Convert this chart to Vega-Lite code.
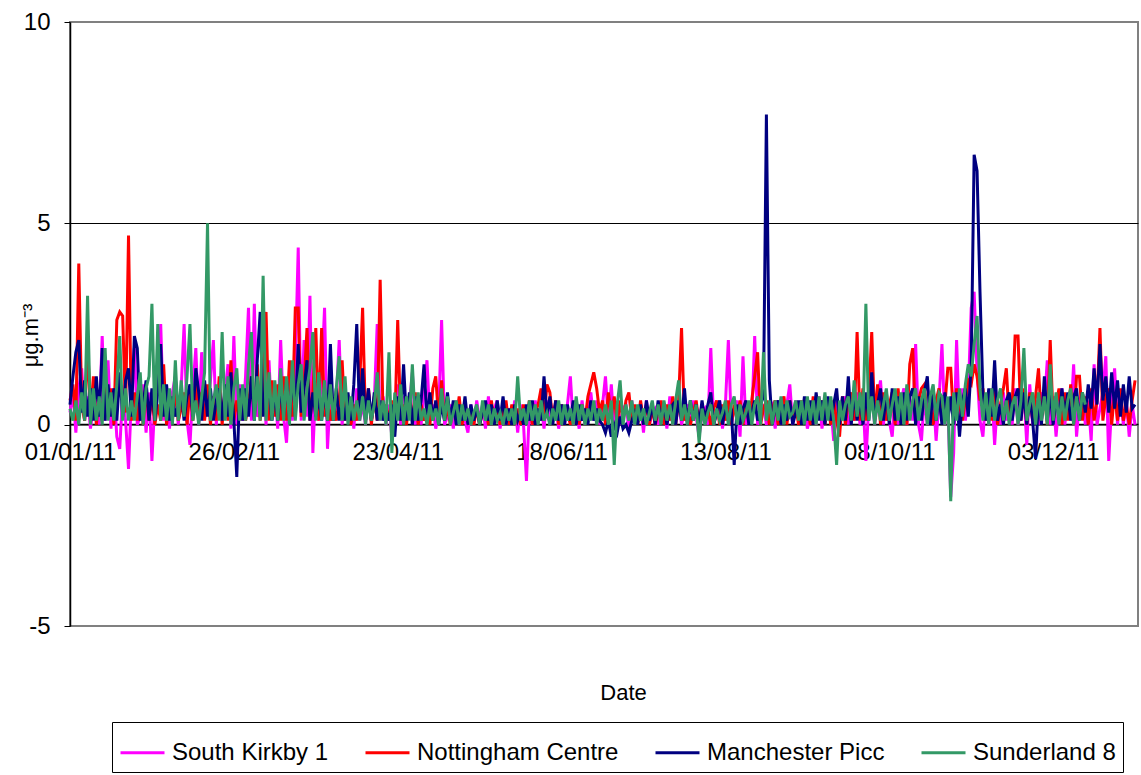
{
"$schema":"https://vega.github.io/schema/vega-lite/v6.json",
"width":1068,"height":604,
"autosize":{"type":"none"},
"padding":{"left":70,"top":22,"right":3,"bottom":149},
"background":"white",
"config":{"font":"Liberation Sans","view":{"stroke":"#808080","strokeWidth":2}},
"data":{"values":[
{"t":"2011-01-01","k":0.3,"n":0.6,"m":0.5,"s":0.4},
{"t":"2011-01-02","k":0.8,"n":1.0,"m":1.2,"s":0.1},
{"t":"2011-01-03","k":-0.2,"n":0.1,"m":1.8,"s":0.6},
{"t":"2011-01-04","k":0.9,"n":4.0,"m":2.1,"s":0.0},
{"t":"2011-01-05","k":1.4,"n":0.5,"m":0.3,"s":0.8},
{"t":"2011-01-06","k":0.1,"n":0.1,"m":1.1,"s":0.1},
{"t":"2011-01-07","k":0.7,"n":2.1,"m":0.2,"s":3.2},
{"t":"2011-01-08","k":-0.1,"n":0.2,"m":0.9,"s":0.0},
{"t":"2011-01-09","k":0.5,"n":1.2,"m":0.1,"s":0.9},
{"t":"2011-01-10","k":1.0,"n":0.0,"m":1.2,"s":0.1},
{"t":"2011-01-11","k":0.0,"n":0.7,"m":0.2,"s":0.7},
{"t":"2011-01-12","k":2.2,"n":0.1,"m":1.9,"s":0.0},
{"t":"2011-01-13","k":0.1,"n":1.2,"m":0.1,"s":1.9},
{"t":"2011-01-14","k":1.6,"n":0.2,"m":1.0,"s":0.1},
{"t":"2011-01-15","k":-0.1,"n":0.9,"m":0.2,"s":0.8},
{"t":"2011-01-16","k":0.9,"n":0.0,"m":0.9,"s":0.1},
{"t":"2011-01-17","k":-0.3,"n":2.6,"m":0.1,"s":1.0},
{"t":"2011-01-18","k":-0.6,"n":2.8,"m":1.3,"s":2.2},
{"t":"2011-01-19","k":0.8,"n":2.7,"m":0.2,"s":0.1},
{"t":"2011-01-20","k":0.1,"n":0.3,"m":1.1,"s":0.9},
{"t":"2011-01-21","k":-1.1,"n":4.7,"m":1.4,"s":0.1},
{"t":"2011-01-22","k":0.7,"n":0.1,"m":0.2,"s":0.6},
{"t":"2011-01-23","k":1.9,"n":0.8,"m":2.2,"s":0.1},
{"t":"2011-01-24","k":0.0,"n":0.1,"m":1.9,"s":0.7},
{"t":"2011-01-25","k":0.2,"n":1.0,"m":0.1,"s":1.3},
{"t":"2011-01-26","k":1.0,"n":0.0,"m":0.5,"s":0.0},
{"t":"2011-01-27","k":-0.2,"n":0.9,"m":1.1,"s":0.9},
{"t":"2011-01-28","k":0.8,"n":0.1,"m":0.1,"s":1.2},
{"t":"2011-01-29","k":-0.9,"n":0.7,"m":0.9,"s":3.0},
{"t":"2011-01-30","k":0.6,"n":0.0,"m":0.1,"s":0.1},
{"t":"2011-01-31","k":0.9,"n":0.5,"m":0.8,"s":2.5},
{"t":"2011-02-01","k":2.5,"n":0.1,"m":2.0,"s":0.1},
{"t":"2011-02-02","k":0.1,"n":1.5,"m":0.2,"s":1.0},
{"t":"2011-02-03","k":0.7,"n":0.0,"m":1.0,"s":0.1},
{"t":"2011-02-04","k":-0.1,"n":0.7,"m":0.1,"s":0.9},
{"t":"2011-02-05","k":0.8,"n":0.1,"m":0.7,"s":0.0},
{"t":"2011-02-06","k":1.2,"n":0.9,"m":0.2,"s":1.6},
{"t":"2011-02-07","k":0.0,"n":0.1,"m":0.5,"s":0.1},
{"t":"2011-02-08","k":0.9,"n":0.4,"m":0.8,"s":1.1},
{"t":"2011-02-09","k":2.5,"n":0.8,"m":0.1,"s":0.2},
{"t":"2011-02-10","k":0.1,"n":0.0,"m":0.7,"s":1.2},
{"t":"2011-02-11","k":-0.5,"n":0.9,"m":1.0,"s":2.5},
{"t":"2011-02-12","k":0.9,"n":0.1,"m":0.2,"s":0.1},
{"t":"2011-02-13","k":1.9,"n":1.1,"m":1.4,"s":0.6},
{"t":"2011-02-14","k":0.0,"n":0.1,"m":0.8,"s":0.0},
{"t":"2011-02-15","k":1.8,"n":0.8,"m":0.1,"s":0.7},
{"t":"2011-02-16","k":0.2,"n":0.1,"m":1.1,"s":1.3},
{"t":"2011-02-17","k":0.3,"n":1.0,"m":0.2,"s":5.0},
{"t":"2011-02-18","k":1.1,"n":0.0,"m":0.9,"s":0.1},
{"t":"2011-02-19","k":2.1,"n":0.7,"m":0.1,"s":0.6},
{"t":"2011-02-20","k":0.0,"n":0.1,"m":0.6,"s":1.0},
{"t":"2011-02-21","k":1.0,"n":1.2,"m":0.9,"s":0.1},
{"t":"2011-02-22","k":0.1,"n":0.0,"m":0.1,"s":2.3},
{"t":"2011-02-23","k":0.8,"n":0.9,"m":1.0,"s":0.1},
{"t":"2011-02-24","k":1.5,"n":0.1,"m":0.2,"s":1.2},
{"t":"2011-02-25","k":-0.1,"n":1.6,"m":1.3,"s":0.0},
{"t":"2011-02-26","k":2.2,"n":0.1,"m":0.1,"s":0.9},
{"t":"2011-02-27","k":0.0,"n":0.6,"m":-1.3,"s":1.4},
{"t":"2011-02-28","k":1.0,"n":0.1,"m":0.9,"s":0.1},
{"t":"2011-03-01","k":0.1,"n":0.7,"m":0.1,"s":1.0},
{"t":"2011-03-02","k":1.2,"n":0.1,"m":0.9,"s":0.1},
{"t":"2011-03-03","k":2.9,"n":0.5,"m":0.2,"s":1.5},
{"t":"2011-03-04","k":0.1,"n":1.2,"m":1.2,"s":2.3},
{"t":"2011-03-05","k":3.0,"n":0.2,"m":0.1,"s":0.1},
{"t":"2011-03-06","k":0.2,"n":1.5,"m":1.6,"s":1.2},
{"t":"2011-03-07","k":0.4,"n":0.1,"m":2.8,"s":0.1},
{"t":"2011-03-08","k":1.3,"n":1.0,"m":0.2,"s":3.7},
{"t":"2011-03-09","k":0.0,"n":2.8,"m":0.7,"s":0.1},
{"t":"2011-03-10","k":1.6,"n":0.1,"m":0.9,"s":1.3},
{"t":"2011-03-11","k":0.1,"n":1.1,"m":0.1,"s":0.1},
{"t":"2011-03-12","k":0.8,"n":0.2,"m":0.8,"s":1.1},
{"t":"2011-03-13","k":-0.1,"n":1.0,"m":0.1,"s":0.1},
{"t":"2011-03-14","k":2.1,"n":0.1,"m":1.0,"s":1.4},
{"t":"2011-03-15","k":0.2,"n":1.2,"m":0.2,"s":0.1},
{"t":"2011-03-16","k":-0.45,"n":0.1,"m":1.1,"s":1.2},
{"t":"2011-03-17","k":1.0,"n":1.6,"m":0.1,"s":0.0},
{"t":"2011-03-18","k":0.1,"n":0.2,"m":1.3,"s":1.6},
{"t":"2011-03-19","k":1.5,"n":2.9,"m":0.2,"s":0.1},
{"t":"2011-03-20","k":4.4,"n":2.9,"m":2.0,"s":1.0},
{"t":"2011-03-21","k":0.1,"n":0.2,"m":0.3,"s":1.5},
{"t":"2011-03-22","k":2.1,"n":1.0,"m":0.9,"s":0.1},
{"t":"2011-03-23","k":0.2,"n":2.4,"m":1.6,"s":0.9},
{"t":"2011-03-24","k":3.2,"n":0.1,"m":0.1,"s":1.4},
{"t":"2011-03-25","k":-0.7,"n":0.8,"m":0.8,"s":2.3},
{"t":"2011-03-26","k":1.0,"n":2.4,"m":0.2,"s":0.1},
{"t":"2011-03-27","k":0.1,"n":0.1,"m":0.7,"s":1.3},
{"t":"2011-03-28","k":1.2,"n":2.4,"m":0.1,"s":0.1},
{"t":"2011-03-29","k":2.9,"n":0.2,"m":0.9,"s":1.1},
{"t":"2011-03-30","k":-0.6,"n":0.7,"m":0.1,"s":0.1},
{"t":"2011-03-31","k":0.8,"n":0.1,"m":2.0,"s":1.0},
{"t":"2011-04-01","k":0.1,"n":0.5,"m":0.1,"s":0.1},
{"t":"2011-04-02","k":0.6,"n":0.1,"m":0.9,"s":0.9},
{"t":"2011-04-03","k":2.1,"n":0.6,"m":0.1,"s":1.7},
{"t":"2011-04-04","k":0.0,"n":1.6,"m":0.6,"s":0.1},
{"t":"2011-04-05","k":0.8,"n":0.1,"m":0.1,"s":1.2},
{"t":"2011-04-06","k":0.1,"n":0.7,"m":0.8,"s":0.0},
{"t":"2011-04-07","k":0.6,"n":0.0,"m":0.1,"s":0.7},
{"t":"2011-04-08","k":-0.1,"n":0.5,"m":1.0,"s":0.1},
{"t":"2011-04-09","k":0.9,"n":0.1,"m":2.5,"s":0.6},
{"t":"2011-04-10","k":0.1,"n":1.0,"m":0.2,"s":0.1},
{"t":"2011-04-11","k":0.5,"n":2.9,"m":1.4,"s":0.7},
{"t":"2011-04-12","k":0.0,"n":0.1,"m":0.1,"s":0.0},
{"t":"2011-04-13","k":0.8,"n":0.9,"m":0.9,"s":0.6},
{"t":"2011-04-14","k":0.1,"n":0.0,"m":0.1,"s":0.1},
{"t":"2011-04-15","k":0.6,"n":0.7,"m":0.8,"s":0.5},
{"t":"2011-04-16","k":2.5,"n":0.1,"m":0.1,"s":1.3},
{"t":"2011-04-17","k":0.1,"n":3.6,"m":0.6,"s":0.1},
{"t":"2011-04-18","k":0.7,"n":0.2,"m":0.1,"s":0.6},
{"t":"2011-04-19","k":0.0,"n":0.5,"m":0.4,"s":0.0},
{"t":"2011-04-20","k":0.5,"n":0.1,"m":0.1,"s":1.8},
{"t":"2011-04-21","k":-0.3,"n":0.6,"m":0.5,"s":-0.7},
{"t":"2011-04-22","k":0.6,"n":0.0,"m":-0.3,"s":0.8},
{"t":"2011-04-23","k":1.0,"n":2.6,"m":0.7,"s":0.1},
{"t":"2011-04-24","k":0.0,"n":0.1,"m":0.1,"s":1.0},
{"t":"2011-04-25","k":0.7,"n":0.5,"m":1.5,"s":0.0},
{"t":"2011-04-26","k":0.1,"n":0.0,"m":0.1,"s":0.7},
{"t":"2011-04-27","k":0.5,"n":0.6,"m":0.8,"s":0.1},
{"t":"2011-04-28","k":1.3,"n":0.1,"m":0.0,"s":1.5},
{"t":"2011-04-29","k":0.0,"n":0.8,"m":0.7,"s":0.1},
{"t":"2011-04-30","k":0.6,"n":0.0,"m":0.1,"s":0.8},
{"t":"2011-05-01","k":0.0,"n":0.5,"m":0.6,"s":0.1},
{"t":"2011-05-02","k":0.8,"n":0.1,"m":1.5,"s":0.4},
{"t":"2011-05-03","k":1.6,"n":0.4,"m":0.1,"s":0.0},
{"t":"2011-05-04","k":0.1,"n":0.0,"m":0.8,"s":0.5},
{"t":"2011-05-05","k":0.5,"n":0.9,"m":0.1,"s":0.1},
{"t":"2011-05-06","k":-0.1,"n":1.2,"m":0.6,"s":0.4},
{"t":"2011-05-07","k":0.3,"n":0.1,"m":0.0,"s":0.0},
{"t":"2011-05-08","k":2.6,"n":1.1,"m":0.5,"s":0.9},
{"t":"2011-05-09","k":0.0,"n":0.1,"m":0.1,"s":0.1},
{"t":"2011-05-10","k":0.2,"n":0.4,"m":0.8,"s":0.7},
{"t":"2011-05-11","k":0.5,"n":0.0,"m":0.1,"s":0.0},
{"t":"2011-05-12","k":-0.1,"n":0.5,"m":0.6,"s":0.3},
{"t":"2011-05-13","k":0.6,"n":0.1,"m":0.0,"s":0.6},
{"t":"2011-05-14","k":0.0,"n":0.7,"m":0.5,"s":0.0},
{"t":"2011-05-15","k":0.4,"n":0.0,"m":0.1,"s":0.5},
{"t":"2011-05-16","k":0.1,"n":0.5,"m":0.7,"s":0.1},
{"t":"2011-05-17","k":-0.2,"n":0.1,"m":0.0,"s":0.4},
{"t":"2011-05-18","k":0.5,"n":0.3,"m":0.5,"s":0.0},
{"t":"2011-05-19","k":0.0,"n":0.0,"m":0.1,"s":0.3},
{"t":"2011-05-20","k":0.6,"n":0.4,"m":0.4,"s":0.5},
{"t":"2011-05-21","k":0.1,"n":0.0,"m":0.0,"s":0.0},
{"t":"2011-05-22","k":0.5,"n":0.3,"m":0.3,"s":0.6},
{"t":"2011-05-23","k":-0.1,"n":0.5,"m":0.6,"s":0.1},
{"t":"2011-05-24","k":0.7,"n":0.0,"m":0.1,"s":0.5},
{"t":"2011-05-25","k":0.0,"n":0.6,"m":0.5,"s":0.0},
{"t":"2011-05-26","k":0.4,"n":0.1,"m":0.0,"s":0.4},
{"t":"2011-05-27","k":0.6,"n":0.4,"m":0.6,"s":0.1},
{"t":"2011-05-28","k":-0.1,"n":0.0,"m":0.1,"s":0.3},
{"t":"2011-05-29","k":0.5,"n":0.3,"m":0.7,"s":0.0},
{"t":"2011-05-30","k":0.0,"n":0.6,"m":0.0,"s":0.4},
{"t":"2011-05-31","k":0.4,"n":0.0,"m":0.4,"s":0.1},
{"t":"2011-06-01","k":0.1,"n":0.5,"m":0.0,"s":0.4},
{"t":"2011-06-02","k":0.6,"n":0.0,"m":0.5,"s":0.0},
{"t":"2011-06-03","k":-0.2,"n":0.4,"m":0.1,"s":1.2},
{"t":"2011-06-04","k":0.5,"n":0.0,"m":0.3,"s":0.1},
{"t":"2011-06-05","k":0.0,"n":0.5,"m":0.0,"s":0.4},
{"t":"2011-06-06","k":-1.4,"n":0.1,"m":0.5,"s":0.0},
{"t":"2011-06-07","k":0.4,"n":0.6,"m":0.1,"s":0.6},
{"t":"2011-06-08","k":0.0,"n":0.0,"m":0.6,"s":0.1},
{"t":"2011-06-09","k":0.6,"n":0.3,"m":0.0,"s":0.5},
{"t":"2011-06-10","k":0.1,"n":0.5,"m":0.4,"s":0.0},
{"t":"2011-06-11","k":0.5,"n":0.9,"m":0.1,"s":0.6},
{"t":"2011-06-12","k":-0.1,"n":0.1,"m":1.2,"s":0.1},
{"t":"2011-06-13","k":0.6,"n":1.0,"m":0.2,"s":0.3},
{"t":"2011-06-14","k":0.0,"n":0.8,"m":0.7,"s":0.0},
{"t":"2011-06-15","k":0.3,"n":0.1,"m":0.0,"s":0.4},
{"t":"2011-06-16","k":0.5,"n":0.6,"m":0.6,"s":0.1},
{"t":"2011-06-17","k":-0.1,"n":0.0,"m":0.1,"s":0.6},
{"t":"2011-06-18","k":0.4,"n":0.5,"m":0.5,"s":0.0},
{"t":"2011-06-19","k":0.0,"n":0.1,"m":0.0,"s":0.5},
{"t":"2011-06-20","k":0.5,"n":0.3,"m":0.5,"s":0.1},
{"t":"2011-06-21","k":1.2,"n":0.0,"m":0.1,"s":0.4},
{"t":"2011-06-22","k":0.0,"n":0.4,"m":0.6,"s":0.0},
{"t":"2011-06-23","k":0.4,"n":0.6,"m":0.0,"s":0.7},
{"t":"2011-06-24","k":-0.1,"n":0.0,"m":0.5,"s":0.1},
{"t":"2011-06-25","k":0.6,"n":0.5,"m":0.1,"s":0.5},
{"t":"2011-06-26","k":0.0,"n":0.1,"m":0.4,"s":0.0},
{"t":"2011-06-27","k":0.5,"n":0.7,"m":0.0,"s":0.4},
{"t":"2011-06-28","k":0.8,"n":1.0,"m":0.6,"s":0.1},
{"t":"2011-06-29","k":0.1,"n":1.3,"m":0.1,"s":0.6},
{"t":"2011-06-30","k":0.6,"n":0.9,"m":0.4,"s":0.0},
{"t":"2011-07-01","k":0.0,"n":0.3,"m":0.1,"s":0.4},
{"t":"2011-07-02","k":0.5,"n":0.6,"m":0.0,"s":0.1},
{"t":"2011-07-03","k":1.2,"n":0.0,"m":-0.2,"s":0.5},
{"t":"2011-07-04","k":0.1,"n":0.8,"m":0.1,"s":0.0},
{"t":"2011-07-05","k":1.0,"n":0.2,"m":-0.3,"s":0.6},
{"t":"2011-07-06","k":-0.1,"n":0.7,"m":0.0,"s":-1.0},
{"t":"2011-07-07","k":0.5,"n":0.0,"m":-0.2,"s":0.5},
{"t":"2011-07-08","k":0.0,"n":0.6,"m":0.2,"s":1.1},
{"t":"2011-07-09","k":0.4,"n":0.1,"m":-0.1,"s":0.0},
{"t":"2011-07-10","k":0.5,"n":0.6,"m":0.0,"s":0.5},
{"t":"2011-07-11","k":-0.1,"n":0.8,"m":-0.2,"s":0.1},
{"t":"2011-07-12","k":0.6,"n":0.1,"m":0.1,"s":0.6},
{"t":"2011-07-13","k":0.0,"n":0.5,"m":0.3,"s":0.0},
{"t":"2011-07-14","k":0.4,"n":0.0,"m":0.0,"s":0.5},
{"t":"2011-07-15","k":0.5,"n":0.6,"m":0.5,"s":0.1},
{"t":"2011-07-16","k":-0.2,"n":0.1,"m":0.0,"s":0.4},
{"t":"2011-07-17","k":0.6,"n":0.5,"m":0.6,"s":0.0},
{"t":"2011-07-18","k":0.0,"n":0.0,"m":0.1,"s":0.3},
{"t":"2011-07-19","k":0.3,"n":0.4,"m":0.5,"s":0.6},
{"t":"2011-07-20","k":0.4,"n":0.0,"m":0.0,"s":0.1},
{"t":"2011-07-21","k":0.0,"n":0.3,"m":0.6,"s":0.5},
{"t":"2011-07-22","k":0.3,"n":0.6,"m":0.1,"s":0.0},
{"t":"2011-07-23","k":0.5,"n":0.0,"m":0.5,"s":0.6},
{"t":"2011-07-24","k":-0.1,"n":0.5,"m":0.0,"s":0.1},
{"t":"2011-07-25","k":0.7,"n":0.1,"m":0.4,"s":0.5},
{"t":"2011-07-26","k":0.0,"n":0.7,"m":0.5,"s":0.0},
{"t":"2011-07-27","k":0.3,"n":0.0,"m":0.0,"s":0.6},
{"t":"2011-07-28","k":0.6,"n":0.6,"m":0.6,"s":1.1},
{"t":"2011-07-29","k":0.0,"n":2.4,"m":0.1,"s":0.1},
{"t":"2011-07-30","k":0.3,"n":0.1,"m":0.9,"s":0.5},
{"t":"2011-07-31","k":0.5,"n":0.4,"m":0.0,"s":0.0},
{"t":"2011-08-01","k":0.0,"n":0.0,"m":0.6,"s":0.6},
{"t":"2011-08-02","k":0.6,"n":0.3,"m":0.1,"s":0.1},
{"t":"2011-08-03","k":0.2,"n":0.6,"m":0.5,"s":0.5},
{"t":"2011-08-04","k":-0.3,"n":0.0,"m":0.0,"s":-0.45},
{"t":"2011-08-05","k":0.3,"n":0.5,"m":0.6,"s":0.4},
{"t":"2011-08-06","k":0.4,"n":0.1,"m":0.1,"s":0.0},
{"t":"2011-08-07","k":0.0,"n":0.4,"m":0.5,"s":0.3},
{"t":"2011-08-08","k":1.9,"n":0.0,"m":0.8,"s":0.5},
{"t":"2011-08-09","k":0.0,"n":0.4,"m":0.0,"s":0.0},
{"t":"2011-08-10","k":0.3,"n":0.6,"m":0.3,"s":0.4},
{"t":"2011-08-11","k":0.6,"n":0.0,"m":0.6,"s":0.1},
{"t":"2011-08-12","k":-0.1,"n":0.5,"m":0.0,"s":0.3},
{"t":"2011-08-13","k":0.5,"n":0.1,"m":0.5,"s":0.6},
{"t":"2011-08-14","k":2.1,"n":0.6,"m":0.1,"s":0.0},
{"t":"2011-08-15","k":0.0,"n":0.0,"m":0.4,"s":0.5},
{"t":"2011-08-16","k":0.4,"n":0.5,"m":-1.0,"s":0.7},
{"t":"2011-08-17","k":0.6,"n":0.1,"m":0.5,"s":0.0},
{"t":"2011-08-18","k":-0.3,"n":0.6,"m":0.0,"s":0.5},
{"t":"2011-08-19","k":1.7,"n":0.0,"m":0.4,"s":0.1},
{"t":"2011-08-20","k":0.0,"n":0.5,"m":0.6,"s":0.3},
{"t":"2011-08-21","k":0.5,"n":0.1,"m":0.0,"s":0.6},
{"t":"2011-08-22","k":0.1,"n":0.6,"m":0.3,"s":0.0},
{"t":"2011-08-23","k":2.2,"n":1.2,"m":0.6,"s":0.5},
{"t":"2011-08-24","k":0.0,"n":1.8,"m":0.1,"s":0.7},
{"t":"2011-08-25","k":0.3,"n":0.0,"m":0.5,"s":0.0},
{"t":"2011-08-26","k":0.5,"n":0.4,"m":0.7,"s":1.8},
{"t":"2011-08-27","k":0.0,"n":0.6,"m":7.7,"s":0.1},
{"t":"2011-08-28","k":0.4,"n":0.0,"m":1.1,"s":0.6},
{"t":"2011-08-29","k":0.5,"n":0.4,"m":0.0,"s":0.0},
{"t":"2011-08-30","k":-0.1,"n":0.6,"m":0.4,"s":0.6},
{"t":"2011-08-31","k":0.6,"n":0.0,"m":0.6,"s":0.1},
{"t":"2011-09-01","k":0.0,"n":0.5,"m":0.0,"s":0.7},
{"t":"2011-09-02","k":0.4,"n":0.7,"m":0.5,"s":0.0},
{"t":"2011-09-03","k":0.5,"n":0.0,"m":0.1,"s":0.6},
{"t":"2011-09-04","k":1.0,"n":0.6,"m":0.6,"s":0.2},
{"t":"2011-09-05","k":0.0,"n":0.1,"m":0.0,"s":0.3},
{"t":"2011-09-06","k":0.6,"n":0.5,"m":0.3,"s":0.6},
{"t":"2011-09-07","k":0.1,"n":0.0,"m":0.6,"s":0.1},
{"t":"2011-09-08","k":0.3,"n":0.6,"m":0.0,"s":0.6},
{"t":"2011-09-09","k":0.6,"n":0.1,"m":0.7,"s":0.0},
{"t":"2011-09-10","k":-0.1,"n":0.5,"m":0.1,"s":0.7},
{"t":"2011-09-11","k":0.2,"n":0.0,"m":0.6,"s":0.1},
{"t":"2011-09-12","k":0.5,"n":0.7,"m":0.0,"s":0.6},
{"t":"2011-09-13","k":0.0,"n":0.1,"m":0.8,"s":0.0},
{"t":"2011-09-14","k":0.7,"n":0.3,"m":0.1,"s":0.7},
{"t":"2011-09-15","k":-0.1,"n":0.6,"m":0.6,"s":0.1},
{"t":"2011-09-16","k":0.5,"n":0.0,"m":0.0,"s":0.8},
{"t":"2011-09-17","k":0.2,"n":0.5,"m":0.7,"s":0.1},
{"t":"2011-09-18","k":0.5,"n":0.0,"m":0.1,"s":0.7},
{"t":"2011-09-19","k":-0.4,"n":0.6,"m":0.5,"s":0.1},
{"t":"2011-09-20","k":0.6,"n":0.1,"m":0.9,"s":-1.0},
{"t":"2011-09-21","k":0.0,"n":-0.3,"m":0.0,"s":0.6},
{"t":"2011-09-22","k":0.5,"n":0.7,"m":0.7,"s":0.1},
{"t":"2011-09-23","k":0.7,"n":0.0,"m":0.1,"s":0.5},
{"t":"2011-09-24","k":0.0,"n":0.6,"m":1.2,"s":0.7},
{"t":"2011-09-25","k":0.6,"n":0.8,"m":0.0,"s":0.1},
{"t":"2011-09-26","k":0.1,"n":0.1,"m":0.8,"s":1.1},
{"t":"2011-09-27","k":0.8,"n":2.3,"m":0.1,"s":0.2},
{"t":"2011-09-28","k":0.0,"n":0.1,"m":0.7,"s":0.8},
{"t":"2011-09-29","k":0.7,"n":0.9,"m":0.0,"s":0.1},
{"t":"2011-09-30","k":-0.9,"n":0.1,"m":0.8,"s":3.0},
{"t":"2011-10-01","k":0.5,"n":0.7,"m":0.1,"s":0.1},
{"t":"2011-10-02","k":0.8,"n":2.3,"m":1.3,"s":0.7},
{"t":"2011-10-03","k":0.0,"n":0.1,"m":0.2,"s":0.0},
{"t":"2011-10-04","k":0.6,"n":1.0,"m":0.5,"s":0.6},
{"t":"2011-10-05","k":1.1,"n":0.0,"m":0.9,"s":0.1},
{"t":"2011-10-06","k":0.0,"n":0.8,"m":0.1,"s":0.5},
{"t":"2011-10-07","k":0.7,"n":0.1,"m":0.8,"s":0.9},
{"t":"2011-10-08","k":0.1,"n":0.5,"m":0.0,"s":0.1},
{"t":"2011-10-09","k":-0.3,"n":0.8,"m":0.9,"s":0.5},
{"t":"2011-10-10","k":0.8,"n":0.0,"m":0.1,"s":0.9},
{"t":"2011-10-11","k":0.0,"n":0.9,"m":0.7,"s":0.1},
{"t":"2011-10-12","k":0.6,"n":0.1,"m":0.0,"s":0.8},
{"t":"2011-10-13","k":0.9,"n":0.7,"m":0.8,"s":0.0},
{"t":"2011-10-14","k":0.0,"n":0.0,"m":0.1,"s":1.0},
{"t":"2011-10-15","k":0.7,"n":1.5,"m":0.7,"s":0.1},
{"t":"2011-10-16","k":0.1,"n":1.9,"m":0.9,"s":0.6},
{"t":"2011-10-17","k":2.0,"n":0.1,"m":0.0,"s":0.9},
{"t":"2011-10-18","k":0.0,"n":0.6,"m":0.7,"s":0.1},
{"t":"2011-10-19","k":-0.4,"n":0.9,"m":0.1,"s":0.6},
{"t":"2011-10-20","k":0.7,"n":1.0,"m":0.8,"s":0.9},
{"t":"2011-10-21","k":0.0,"n":0.1,"m":1.2,"s":0.0},
{"t":"2011-10-22","k":0.3,"n":0.5,"m":0.0,"s":0.7},
{"t":"2011-10-23","k":0.8,"n":0.0,"m":0.9,"s":1.0},
{"t":"2011-10-24","k":-0.4,"n":0.6,"m":0.1,"s":0.1},
{"t":"2011-10-25","k":0.6,"n":0.9,"m":0.7,"s":0.8},
{"t":"2011-10-26","k":2.0,"n":0.1,"m":0.0,"s":0.7},
{"t":"2011-10-27","k":0.0,"n":0.5,"m":0.8,"s":0.0},
{"t":"2011-10-28","k":0.6,"n":1.4,"m":0.1,"s":0.7},
{"t":"2011-10-29","k":-1.8,"n":1.4,"m":0.7,"s":-1.9},
{"t":"2011-10-30","k":-0.7,"n":0.1,"m":0.0,"s":0.8},
{"t":"2011-10-31","k":2.1,"n":0.9,"m":0.8,"s":0.1},
{"t":"2011-11-01","k":0.0,"n":0.5,"m":-0.3,"s":0.9},
{"t":"2011-11-02","k":0.9,"n":0.1,"m":0.6,"s":0.2},
{"t":"2011-11-03","k":0.1,"n":0.6,"m":0.9,"s":1.0},
{"t":"2011-11-04","k":0.8,"n":1.1,"m":0.2,"s":1.5},
{"t":"2011-11-05","k":2.9,"n":1.0,"m":1.5,"s":1.2},
{"t":"2011-11-06","k":3.3,"n":1.5,"m":6.7,"s":2.0},
{"t":"2011-11-07","k":1.3,"n":1.2,"m":6.3,"s":2.7},
{"t":"2011-11-08","k":0.1,"n":0.6,"m":3.3,"s":0.9},
{"t":"2011-11-09","k":-0.3,"n":0.9,"m":0.8,"s":0.1},
{"t":"2011-11-10","k":0.7,"n":0.1,"m":0.1,"s":0.8},
{"t":"2011-11-11","k":0.0,"n":0.8,"m":0.9,"s":0.0},
{"t":"2011-11-12","k":0.9,"n":0.1,"m":0.2,"s":0.9},
{"t":"2011-11-13","k":-0.5,"n":1.0,"m":1.6,"s":0.1},
{"t":"2011-11-14","k":0.6,"n":0.0,"m":0.1,"s":0.6},
{"t":"2011-11-15","k":0.0,"n":0.5,"m":0.5,"s":0.9},
{"t":"2011-11-16","k":0.8,"n":0.9,"m":0.0,"s":0.1},
{"t":"2011-11-17","k":0.1,"n":1.4,"m":0.6,"s":0.6},
{"t":"2011-11-18","k":0.7,"n":0.1,"m":0.8,"s":0.0},
{"t":"2011-11-19","k":0.0,"n":0.5,"m":0.1,"s":0.5},
{"t":"2011-11-20","k":0.9,"n":2.2,"m":0.7,"s":0.7},
{"t":"2011-11-21","k":0.0,"n":2.2,"m":0.9,"s":0.0},
{"t":"2011-11-22","k":0.3,"n":0.1,"m":0.1,"s":0.6},
{"t":"2011-11-23","k":0.8,"n":0.9,"m":0.8,"s":1.9},
{"t":"2011-11-24","k":-0.5,"n":0.0,"m":0.0,"s":0.1},
{"t":"2011-11-25","k":1.0,"n":0.8,"m":0.7,"s":0.5},
{"t":"2011-11-26","k":0.0,"n":0.1,"m":0.1,"s":0.8},
{"t":"2011-11-27","k":0.6,"n":0.7,"m":-0.85,"s":0.0},
{"t":"2011-11-28","k":0.0,"n":1.4,"m":0.7,"s":0.8},
{"t":"2011-11-29","k":0.8,"n":0.1,"m":0.0,"s":0.1},
{"t":"2011-11-30","k":0.5,"n":0.8,"m":1.2,"s":0.7},
{"t":"2011-12-01","k":1.6,"n":0.0,"m":0.1,"s":0.0},
{"t":"2011-12-02","k":0.0,"n":2.1,"m":0.8,"s":1.5},
{"t":"2011-12-03","k":0.7,"n":0.1,"m":0.0,"s":0.1},
{"t":"2011-12-04","k":-0.3,"n":0.5,"m":0.7,"s":0.8},
{"t":"2011-12-05","k":0.6,"n":0.9,"m":0.1,"s":0.0},
{"t":"2011-12-06","k":0.9,"n":0.0,"m":0.9,"s":0.7},
{"t":"2011-12-07","k":0.0,"n":0.8,"m":0.2,"s":0.1},
{"t":"2011-12-08","k":0.7,"n":0.1,"m":0.8,"s":0.6},
{"t":"2011-12-09","k":0.1,"n":1.0,"m":0.1,"s":0.9},
{"t":"2011-12-10","k":1.5,"n":0.0,"m":0.7,"s":0.0},
{"t":"2011-12-11","k":-0.3,"n":1.2,"m":0.9,"s":0.7},
{"t":"2011-12-12","k":0.6,"n":1.2,"m":0.1,"s":0.1},
{"t":"2011-12-13","k":0.8,"n":0.1,"m":0.8,"s":0.8},
{"t":"2011-12-14","k":0.0,"n":0.7,"m":0.3,"s":0.5},
{"t":"2011-12-15","k":0.6,"n":0.0,"m":1.0},
{"t":"2011-12-16","k":-0.4,"n":0.9,"m":0.4},
{"t":"2011-12-17","k":1.5,"n":0.1,"m":1.4},
{"t":"2011-12-18","k":0.0,"n":0.6,"m":0.5},
{"t":"2011-12-19","k":0.4,"n":2.4,"m":2.0},
{"t":"2011-12-20","k":0.8,"n":0.1,"m":0.6},
{"t":"2011-12-21","k":1.7,"n":0.7,"m":1.2},
{"t":"2011-12-22","k":-0.9,"n":0.9,"m":0.3},
{"t":"2011-12-23","k":0.5,"n":0.0,"m":1.3},
{"t":"2011-12-24","k":1.4,"n":0.8,"m":0.4},
{"t":"2011-12-25","k":0.0,"n":0.1,"m":1.1},
{"t":"2011-12-26","k":0.7,"n":0.9,"m":0.2},
{"t":"2011-12-27","k":0.0,"n":0.1,"m":1.0},
{"t":"2011-12-28","k":0.6,"n":0.5,"m":0.3},
{"t":"2011-12-29","k":-0.3,"n":0.0,"m":1.2},
{"t":"2011-12-30","k":0.5,"n":0.6,"m":0.4},
{"t":"2011-12-31","k":0.0,"n":1.1,"m":0.5}
]},
"transform":[{"fold":["k","n","m","s"],"as":["key","v"]}],
"mark":{"type":"line","strokeWidth":3},
"encoding":{
"x":{"field":"t","type":"temporal",
 "scale":{"type":"utc","domain":[{"year":2011,"month":1,"date":1,"utc":true},{"year":2012,"month":1,"date":1,"utc":true}]},
 "axis":{"title":"Date","values":[{"year":2011,"month":1,"date":1,"utc":true},{"year":2011,"month":2,"date":26,"utc":true},{"year":2011,"month":4,"date":23,"utc":true},{"year":2011,"month":6,"date":18,"utc":true},{"year":2011,"month":8,"date":13,"utc":true},{"year":2011,"month":10,"date":8,"utc":true},{"year":2011,"month":12,"date":3,"utc":true}],
  "labelExpr":"utcFormat(datum.value, '%d/%m/%y')","offset":-202,"domainColor":"#000000","domainWidth":1.5,"ticks":false,"grid":false,
  "labelFontSize":24,"labelColor":"#000000","labelPadding":16,"labelFlush":false,"labelOverlap":false,"labelBound":false,
  "titleFontSize":22,"titleFontWeight":"normal","titleColor":"#000000","titleX":553,"titleY":268,"titleBaseline":"middle","titleAlign":"center"}},
"y":{"field":"v","type":"quantitative","scale":{"domain":[-5,10],"nice":false,"zero":false},
 "axis":{"values":[-5,0,5,10],"labelExpr":"'' + datum.value","grid":true,"gridColor":{"condition":{"test":"datum.value === 5","value":"#000000"},"value":"#808080"},"gridWidth":1,
  "domainColor":"#000000","domainWidth":1.5,"tickColor":"#000000","tickSize":6,"labelFontSize":24,"labelColor":"#000000","labelPadding":14,
  "title":"μg.m⁻³","titleFontSize":22,"titleFontWeight":"normal","titleColor":"#000000","titleX":-40,"titleY":313,"titleBaseline":"middle","titleAlign":"center"}},
"color":{"field":"key","type":"nominal","sort":["k","n","m","s"],
 "scale":{"domain":["k","n","m","s"],"range":["#FF00FF","#FF0000","#000080","#339966"]},
 "legend":{"orient":"none","legendX":42,"legendY":700,"direction":"horizontal","title":null,"strokeColor":"#000000","fillColor":"#ffffff","padding":7,
  "symbolType":"stroke","symbolStrokeWidth":3,"symbolSize":1936,"labelFontSize":24,"labelColor":"#000000","labelLimit":400,"labelOffset":6,"columnPadding":30,
  "labelExpr":"{'k':'South Kirkby 1','n':'Nottingham Centre','m':'Manchester Picc','s':'Sunderland 8'}[datum.label]"}}
}
}
